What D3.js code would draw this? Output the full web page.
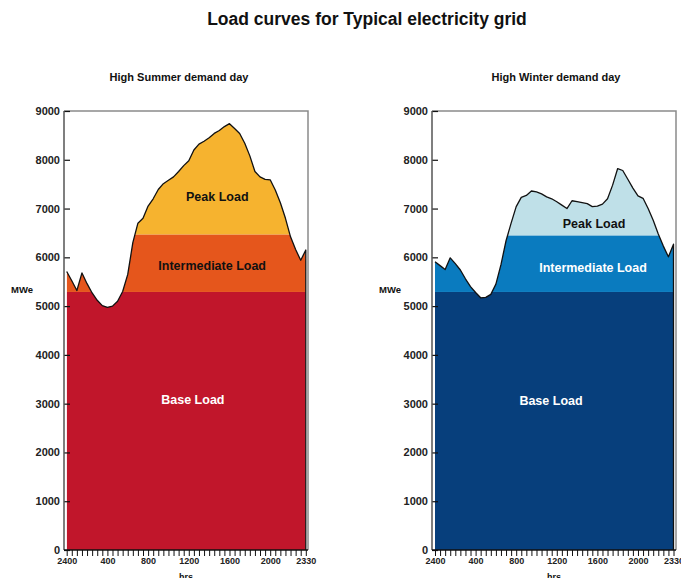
<!DOCTYPE html>
<html><head><meta charset="utf-8">
<script src="https://cdn.jsdelivr.net/npm/d3@7"></script>
<style>
body{margin:0;background:#fff}
svg{display:block}
text{font-family:"Liberation Sans",Arial,Helvetica,sans-serif}
</style>
</head><body>
<svg id="c" width="681" height="578"></svg>
<script>
const mainTitle = "Load curves for Typical electricity grid";
const chartTitles = ["High Summer demand day", "High Winter demand day"];
const hours = d3.range(0, 24, 0.5);
const summerLoad = [5710,5520,5320,5680,5460,5270,5120,5010,4975,5000,5100,5300,5650,6300,6700,6800,
  7050,7200,7390,7510,7580,7650,7760,7880,7980,8200,8320,8380,8450,8540,8600,8680,
  8740,8640,8540,8340,8080,7760,7650,7600,7590,7380,7120,6800,6420,6160,5940,6150];
const winterLoad = [5910,5830,5750,5990,5870,5740,5560,5400,5280,5170,5180,5240,5450,5850,6340,6700,
  7040,7230,7270,7360,7340,7300,7240,7200,7140,7070,7000,7160,7140,7120,7100,7040,
  7050,7090,7200,7480,7820,7780,7600,7420,7260,7210,7000,6760,6480,6230,6010,6270];
const layerNames = ["Base Load", "Intermediate Load", "Peak Load"];
const summerBands = [0, 5290, 6470, 9000];
const winterBands = [0, 5290, 6450, 9000];
const summerColors = ["#c1162b", "#e5561c", "#f6b32f"];
const winterColors = ["#073f7c", "#0a7bbf", "#bfe0e8"];
const summerLabelColors = ["#ffffff", "#111111", "#111111"];
const winterLabelColors = ["#ffffff", "#ffffff", "#111111"];
const yTicks = [0,1000,2000,3000,4000,5000,6000,7000,8000,9000];
const xLabelHours = [0, 4, 8, 12, 16, 20, 23.5];
const xLabelTexts = ["2400", "400", "800", "1200", "1600", "2000", "2330"];
const yAxisLabel = "MWe";
const xAxisLabel = "hrs";

const svg = d3.select("#c");
svg.append("text").attr("x", 367).attr("y", 25).attr("text-anchor", "middle")
  .attr("font-size", 17.5).attr("font-weight", "bold").attr("fill", "#111").text(mainTitle);

const panels = [
  {title: chartTitles[0], titleX: 179, data: summerLoad, bands: summerBands, colors: summerColors, labelColors: summerLabelColors,
   fx0: 64, fx1: 308, dx0: 66.7, dx1: 305.8, mweX: 22,
   labelAt: [[12.4, 2990], [14.3, 5740], [14.8, 7150]]},
  {title: chartTitles[1], titleX: 556, data: winterLoad, bands: winterBands, colors: winterColors, labelColors: winterLabelColors,
   fx0: 432, fx1: 676, dx0: 435, dx1: 673.5, mweX: 390,
   labelAt: [[11.43, 2970], [15.57, 5700], [15.67, 6600]]}
];

const plotTop = 111, plotBottom = 550;
const y = d3.scaleLinear().domain([0, 9000]).range([plotBottom, plotTop]);

panels.forEach((p, pi) => {
  const g = svg.append("g");
  const x = d3.scaleLinear().domain([0, 23.5]).range([p.dx0, p.dx1]);
  const pts = hours.map((h, i) => [h, p.data[i]]);

  g.append("text").attr("x", p.titleX).attr("y", 81).attr("text-anchor", "middle")
    .attr("font-size", 11).attr("font-weight", "bold").attr("fill", "#111").text(p.title);

  const clipId = "clip" + pi;
  const area = d3.area().x(d => x(d[0])).y0(y(0)).y1(d => y(d[1]));
  g.append("clipPath").attr("id", clipId).append("path").attr("d", area(pts));

  const bandG = g.append("g").attr("clip-path", `url(#${clipId})`);
  layerNames.forEach((name, li) => {
    bandG.append("rect")
      .attr("x", x(0)).attr("width", x(23.5) - x(0))
      .attr("y", y(p.bands[li + 1])).attr("height", y(p.bands[li]) - y(p.bands[li + 1]))
      .attr("fill", p.colors[li]);
  });

  const line = d3.line().x(d => x(d[0])).y(d => y(d[1]));
  g.append("path").attr("d", line(pts.concat([[23.5, 0]])))
    .attr("fill", "none").attr("stroke", "#111").attr("stroke-width", 1.3).attr("stroke-linejoin", "round");

  g.append("path").attr("d", `M${p.fx0},${plotTop}H${p.fx1}V${plotBottom}`)
    .attr("fill", "none").attr("stroke", "#8a8a8a").attr("stroke-width", 1.5);

  layerNames.forEach((name, li) => {
    g.append("text").attr("x", x(p.labelAt[li][0])).attr("y", y(p.labelAt[li][1]))
      .attr("text-anchor", "middle").attr("font-size", 12.5).attr("font-weight", "bold")
      .attr("fill", p.labelColors[li]).text(name);
  });

  const yAxis = d3.axisLeft(y).tickValues(yTicks).tickSizeInner(-6).tickSizeOuter(0).tickPadding(4).tickFormat(d3.format("d"));
  const ya = g.append("g").attr("transform", `translate(${p.fx0},0)`).call(yAxis);
  ya.select(".domain").remove();
  ya.selectAll(".tick line").attr("stroke", "#111").attr("stroke-width", 1.2);
  ya.selectAll(".tick text").attr("font-size", 11).attr("font-weight", "bold").attr("fill", "#222")
    .attr("font-family", '"Liberation Sans",Arial,sans-serif');
  g.append("line").attr("x1", p.fx0).attr("x2", p.fx0).attr("y1", plotTop).attr("y2", plotBottom)
    .attr("stroke", "#555").attr("stroke-width", 1.5);

  const xAxis = d3.axisBottom(x).tickValues(hours)
    .tickSizeInner(6).tickSizeOuter(0).tickPadding(2)
    .tickFormat(d => { const k = xLabelHours.indexOf(d); return k >= 0 ? xLabelTexts[k] : ""; });
  const xa = g.append("g").attr("transform", `translate(0,${plotBottom})`).call(xAxis);
  xa.select(".domain").remove();
  xa.selectAll(".tick line").attr("stroke", "#111").attr("stroke-width", 1);
  xa.selectAll(".tick text").attr("font-size", 9).attr("font-weight", "bold").attr("fill", "#222")
    .attr("font-family", '"Liberation Sans",Arial,sans-serif');
  g.append("line").attr("x1", p.fx0).attr("x2", p.fx1).attr("y1", plotBottom).attr("y2", plotBottom)
    .attr("stroke", "#111").attr("stroke-width", 1.5);

  g.append("text").attr("x", p.mweX).attr("y", 293).attr("text-anchor", "middle")
    .attr("font-size", 9.5).attr("font-weight", "bold").attr("fill", "#111").text(yAxisLabel);
  g.append("text").attr("x", (p.fx0 + p.fx1) / 2).attr("y", 580).attr("text-anchor", "middle")
    .attr("font-size", 9).attr("font-weight", "bold").attr("fill", "#111").text(xAxisLabel);
});
</script>
</body></html>
